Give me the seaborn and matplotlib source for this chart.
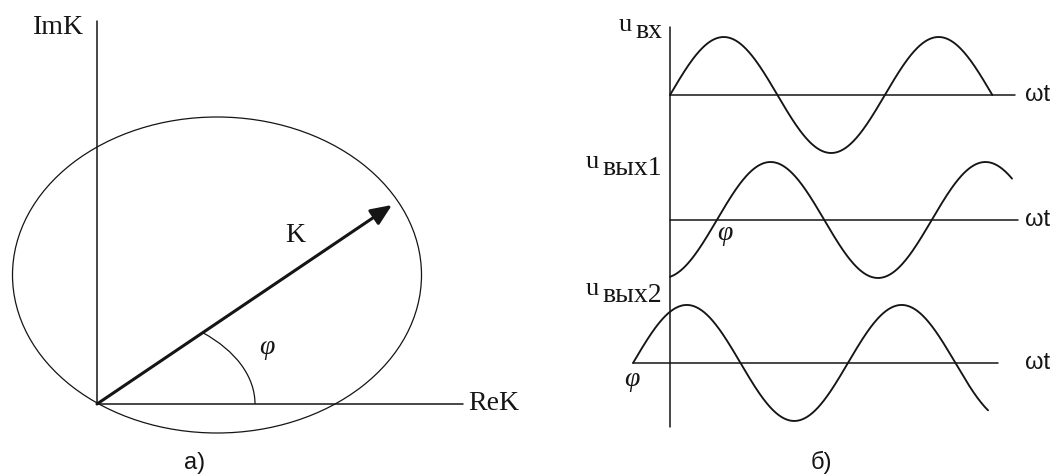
import numpy as np
import pandas as pd
import matplotlib
matplotlib.use("Agg")
import matplotlib.pyplot as plt
import seaborn as sns
from matplotlib.patches import Ellipse, Arc

sns.set_theme(style="white")
plt.rcParams["font.family"] = ["Liberation Serif", "DejaVu Serif"]

INK = "#151515"
SANS = ["Liberation Sans", "DejaVu Sans"]

# ---- a) hodograph of the transfer function K(jω) on the complex plane ----
hodograph_center = (1.20, 1.29)
hodograph_size = (4.09, 3.16)
k_vector = (2.95, 1.99)
re_axis_length = 3.66
im_axis_length = 3.83
phi_arc_radii = (1.58, 0.96)

# ---- б) input voltage and two output voltages versus ωt ----
wave_labels = ["вх", "вых1", "вых2"]
wave_phase = [0.0, -1.37, 1.08]          # rad, phase of each output relative to input
wave_start = [0.0, 0.0, -1.08]           # ωt where each curve begins
wave_stop = [3 * np.pi, 10.0, 9.30]      # ωt where each curve ends
wave_offset = [0.0, -2.155, -4.62]       # vertical position of each ωt axis
wave_amplitude = 1.0
baseline_start = [0.0, 0.0, -1.08]
baseline_stop = [10.09, 10.18, 9.59]

fig = plt.figure(figsize=(10.62, 4.76), dpi=100)
axL = fig.add_axes([0, 0, 0.5, 1])
axR = fig.add_axes([0.5, 0, 0.5, 1])
for ax in (axL, axR):
    ax.set_axis_off()

# ---------------- panel a) ----------------
axL.set_xlim(-0.97, 4.34)
axL.set_ylim(-0.72, 4.04)

axL.plot([0, 0], [0, im_axis_length], color=INK, lw=1.1)
axL.plot([0, re_axis_length], [0, 0], color=INK, lw=1.1)

axL.add_patch(Ellipse(hodograph_center, hodograph_size[0], hodograph_size[1],
                      fill=False, ec=INK, lw=0.9))

axL.annotate("", xy=k_vector, xytext=(0, 0),
             arrowprops=dict(arrowstyle="-|>,head_length=0.75,head_width=0.32",
                             mutation_scale=17, lw=2.2, color=INK,
                             shrinkA=0, shrinkB=0))

phi_deg = np.degrees(np.arctan2(k_vector[1], k_vector[0]))
axL.add_patch(Arc((0, 0), 2 * phi_arc_radii[0], 2 * phi_arc_radii[1],
                  theta1=0, theta2=phi_deg, ec=INK, lw=0.9))

axL.text(-0.39, 3.76, "ImK", fontsize=20, ha="center", va="center", color=INK)
axL.text(3.71, 0.0, "ReK", fontsize=20, ha="left", va="center", color=INK)
axL.text(1.98, 1.69, "K", fontsize=20, ha="center", va="center", color=INK)
axL.text(1.70, 0.57, "φ", fontsize=20, style="italic", ha="center", va="center",
         color=INK)
axL.text(0.98, -0.59, "a)", fontsize=17, ha="center", va="center", color=INK,
         family=SANS)

# ---------------- panel б) ----------------
axR.set_xlim(-4.064, 11.462)
axR.set_ylim(-6.569, 1.638)

rows = []
for name, ph, t0, t1, off in zip(wave_labels, wave_phase, wave_start, wave_stop, wave_offset):
    wt = np.linspace(t0, t1, 400)
    u = off + wave_amplitude * np.sin(wt + ph)
    rows.append(pd.DataFrame({"wt": wt, "u": u, "wave": name}))
waves = pd.concat(rows, ignore_index=True)

sns.lineplot(data=waves, x="wt", y="u", units="wave", estimator=None,
             sort=False, color=INK, lw=1.35, ax=axR, legend=False)
axR.set_axis_off()

axR.plot([0, 0], [-5.72, 1.17], color=INK, lw=1.1)
for off, b0, b1 in zip(wave_offset, baseline_start, baseline_stop):
    axR.plot([b0, b1], [off, off], color=INK, lw=1.1)
    axR.text(10.38, off, "ωt", fontsize=17, ha="left", va="center", color=INK,
             family=SANS)

# voltage names: "u" with its index set slightly lower, right-aligned to the axis
label_baseline = [0.983, -1.379, -3.569]
for name, y in zip(wave_labels, label_baseline):
    sub = axR.text(-0.23, y, name, fontsize=20, ha="right", va="baseline",
                   color=INK)
    axR.annotate("u", xy=(0, 0), xycoords=sub, xytext=(-2.5, 5.5),
                 textcoords="offset points", ha="right", va="bottom",
                 fontsize=19, color=INK)

axR.text(1.61, -2.38, "φ", fontsize=20, style="italic", ha="center",
         va="center", color=INK)
axR.text(-1.11, -4.91, "φ", fontsize=20, style="italic", ha="center",
         va="center", color=INK)
axR.text(4.44, -6.33, "б)", fontsize=17, ha="center", va="center", color=INK,
         family=SANS)

fig.savefig("out.png", dpi=100, facecolor="white")
